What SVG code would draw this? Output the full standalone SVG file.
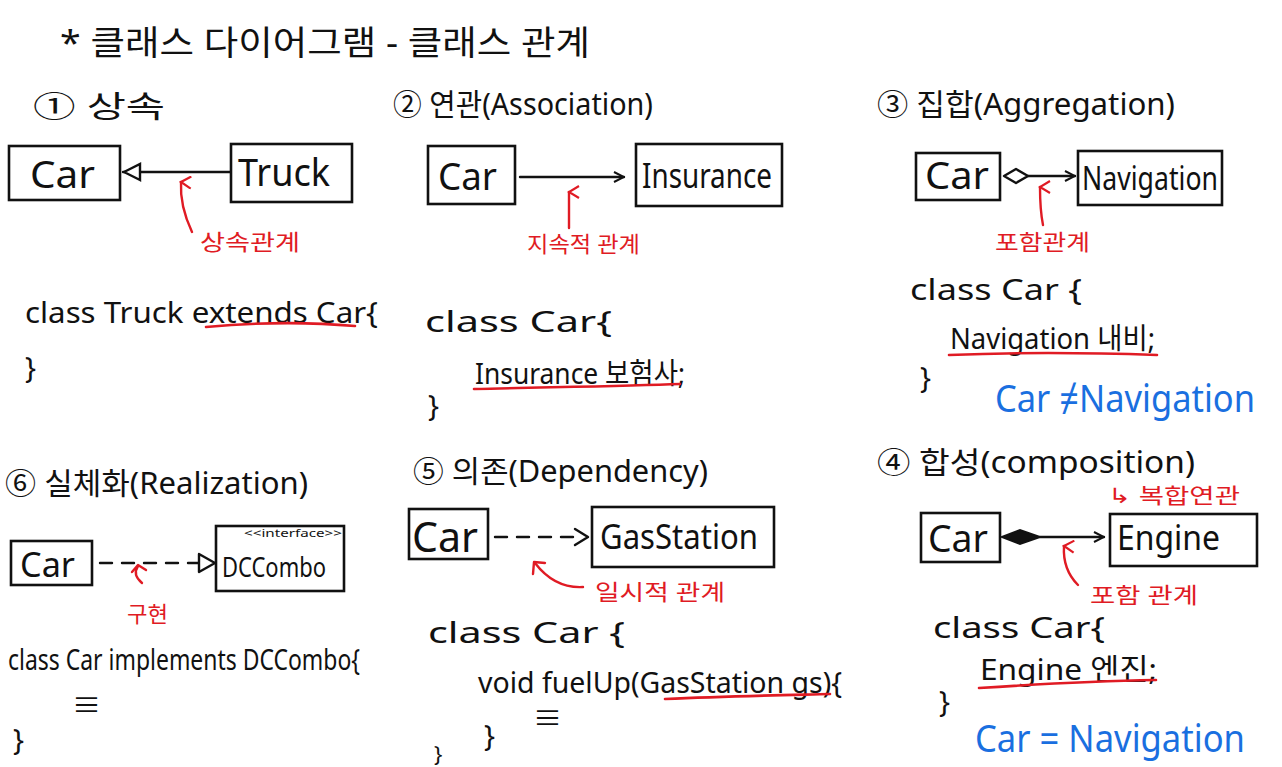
<svg xmlns="http://www.w3.org/2000/svg" width="1282" height="767" viewBox="0 0 1282 767">
<style>
text{font-family:"Noto Sans","Noto Sans CJK KR",sans-serif;fill:#111}
.t{font-size:34px}
.h{font-size:30px}
.lb{font-size:38px}
.cd{font-size:29px}
.r{font-size:22px;fill:#e01b24}
.b{font-size:38px;fill:#1a6fe0}
.box{fill:none;stroke:#111;stroke-width:2.6;stroke-linecap:round}
.ln{fill:none;stroke:#111;stroke-width:2.4;stroke-linecap:round;stroke-linejoin:round}
.ds{stroke-dasharray:12 10}
.ra{fill:none;stroke:#e01b24;stroke-width:2.4;stroke-linecap:round;stroke-linejoin:round}
.ul{fill:none;stroke:#e01b24;stroke-width:2.6;stroke-linecap:round}
</style>
<defs>
<marker id="open" viewBox="0 0 12 12" refX="11" refY="6" markerWidth="12" markerHeight="12" markerUnits="userSpaceOnUse" orient="auto">
<path d="M1,1 L11,6 L1,11" fill="none" stroke="#111" stroke-width="2"/>
</marker>
<marker id="tri" viewBox="0 0 20 20" refX="19" refY="10" markerWidth="20" markerHeight="20" markerUnits="userSpaceOnUse" orient="auto">
<path d="M2,2 L18,10 L2,18 Z" fill="#fff" stroke="#111" stroke-width="2.4"/>
</marker>
<marker id="redup" viewBox="0 0 14 14" refX="7" refY="2" markerWidth="14" markerHeight="14" markerUnits="userSpaceOnUse" orient="auto-start-reverse">
<path d="M1,12 L7,2 L13,12" fill="none" stroke="#e01b24" stroke-width="2.2"/>
</marker>
</defs>
<rect width="1282" height="767" fill="#fff"/>

<g id="title">
<text class="t" x="60" y="55" textLength="530" lengthAdjust="spacingAndGlyphs">* 클래스 다이어그램 - 클래스 관계</text>
</g>

<g id="headings">
<text class="h" x="33" y="117" textLength="132" lengthAdjust="spacingAndGlyphs">① 상속</text>
<text class="h" x="393" y="115" textLength="260" lengthAdjust="spacingAndGlyphs">② 연관(Association)</text>
<text class="h" x="877" y="115" textLength="298" lengthAdjust="spacingAndGlyphs">③ 집합(Aggregation)</text>
<text class="h" x="5" y="494" textLength="303" lengthAdjust="spacingAndGlyphs">⑥ 실체화(Realization)</text>
<text class="h" x="413" y="482" textLength="295" lengthAdjust="spacingAndGlyphs">⑤ 의존(Dependency)</text>
<text class="h" x="877" y="473" textLength="318" lengthAdjust="spacingAndGlyphs">④ 합성(composition)</text>
</g>

<!-- Section 1: inheritance -->
<g id="car1">
<rect class="box" x="9" y="146" width="111" height="54"/>
<text class="lb" x="30" y="188" textLength="65" lengthAdjust="spacingAndGlyphs">Car</text>
</g>
<g id="truck">
<rect class="box" x="231" y="144" width="121" height="58"/>
<text class="lb" x="238" y="186" textLength="92" lengthAdjust="spacingAndGlyphs">Truck</text>
</g>

<!-- Section 2: association -->
<g id="car2">
<rect class="box" x="428" y="146" width="87" height="58"/>
<text class="lb" x="438" y="190" textLength="59" lengthAdjust="spacingAndGlyphs">Car</text>
</g>
<g id="insurance">
<rect class="box" x="636" y="144" width="146" height="62"/>
<text class="lb" style="font-size:34px" x="642" y="188" textLength="130" lengthAdjust="spacingAndGlyphs">Insurance</text>
</g>

<!-- Section 3: aggregation -->
<g id="car3">
<rect class="box" x="916" y="153" width="84" height="47"/>
<text class="lb" x="925" y="189" textLength="64" lengthAdjust="spacingAndGlyphs">Car</text>
</g>
<g id="navigation">
<rect class="box" x="1078" y="151" width="144" height="54"/>
<text class="lb" style="font-size:32px" x="1082" y="190" textLength="136" lengthAdjust="spacingAndGlyphs">Navigation</text>
</g>

<!-- Section 6: realization -->
<g id="car6">
<rect class="box" x="11" y="541" width="81" height="44"/>
<text class="lb" style="font-size:34px" x="20" y="577" textLength="55" lengthAdjust="spacingAndGlyphs">Car</text>
</g>
<g id="dccombo">
<rect class="box" x="216" y="526" width="128" height="65"/>
<text style="font-size:11px" x="244" y="537" textLength="98" lengthAdjust="spacingAndGlyphs">&lt;&lt;interface&gt;&gt;</text>
<text class="lb" style="font-size:28px" x="222" y="577" textLength="104" lengthAdjust="spacingAndGlyphs">DCCombo</text>
</g>

<!-- Section 5: dependency -->
<g id="car5">
<rect class="box" x="409" y="509" width="79" height="50"/>
<text class="lb" style="font-size:42px" x="412" y="552" textLength="66" lengthAdjust="spacingAndGlyphs">Car</text>
</g>
<g id="gasstation">
<rect class="box" x="592" y="507" width="182" height="60"/>
<text class="lb" style="font-size:34px" x="600" y="549" textLength="158" lengthAdjust="spacingAndGlyphs">GasStation</text>
</g>

<!-- Section 4: composition -->
<g id="car4">
<rect class="box" x="921" y="513" width="79" height="49"/>
<text class="lb" x="928" y="552" textLength="60" lengthAdjust="spacingAndGlyphs">Car</text>
</g>
<g id="engine">
<rect class="box" x="1110" y="514" width="147" height="52"/>
<text class="lb" style="font-size:34px" x="1117" y="550" textLength="103" lengthAdjust="spacingAndGlyphs">Engine</text>
</g>

<g id="connectors">
<line class="ln" x1="230" y1="172" x2="123" y2="172" marker-end="url(#tri)"/>
<line class="ln" x1="520" y1="177" x2="624" y2="177" marker-end="url(#open)"/>
<path class="ln" d="M1004,176 L1016,169 L1028,176 L1016,183 Z" fill="#fff"/>
<line class="ln" x1="1028" y1="176" x2="1075" y2="176" marker-end="url(#open)"/>
<line class="ln ds" x1="100" y1="563" x2="198" y2="563"/>
<path d="M199,554 L215,563 L199,572 Z" fill="#fff" stroke="#111" stroke-width="2.4" stroke-linejoin="round"/>
<line class="ln ds" x1="495" y1="537" x2="576" y2="537"/>
<path class="ln" d="M575,529 L588,537 L575,545"/>
<path d="M1002,537 L1020,530 L1040,537 L1020,544 Z" fill="#111" stroke="#111" stroke-width="2"/>
<line class="ln" x1="1040" y1="537" x2="1104" y2="537" marker-end="url(#open)"/>
</g>

<g id="annotations">
<path class="ra" d="M192,232 C184,215 180,200 181,182" marker-end="url(#redup)"/>
<text class="r" x="200" y="250" textLength="100" lengthAdjust="spacingAndGlyphs">상속관계</text>
<path class="ra" d="M569,228 L569,192" marker-end="url(#redup)"/>
<text class="r" x="527" y="252" textLength="113" lengthAdjust="spacingAndGlyphs">지속적 관계</text>
<path class="ra" d="M1043,225 C1040,210 1040,198 1040,187" marker-end="url(#redup)"/>
<text class="r" x="995" y="250" textLength="95" lengthAdjust="spacingAndGlyphs">포함관계</text>
<path class="ra" d="M142,583 C136,578 134,572 138,566"/>
<path class="ra" d="M132,572 L138,565 L146,570"/>
<text class="r" x="127" y="622" textLength="41" lengthAdjust="spacingAndGlyphs">구현</text>
<path class="ra" d="M583,587 C565,588 548,580 535,563"/>
<path class="ra" d="M533,574 L534,562 L545,563"/>
<text class="r" x="595" y="600" textLength="130" lengthAdjust="spacingAndGlyphs">일시적 관계</text>
<path class="ra" d="M1078,585 C1068,575 1063,562 1064,546" marker-end="url(#redup)"/>
<text class="r" x="1090" y="603" textLength="108" lengthAdjust="spacingAndGlyphs">포함 관계</text>
<text class="r" style="font-size:21px" x="1108" y="503" textLength="132" lengthAdjust="spacingAndGlyphs">↳ 복합연관</text>
</g>

<g id="code">
<text class="cd" x="25" y="323" textLength="353" lengthAdjust="spacingAndGlyphs">class Truck extends Car{</text>
<path class="ul" d="M206,327 C260,322 310,322 355,326"/>
<text class="cd" x="25" y="378">}</text>

<text class="cd" x="425" y="332" textLength="187" lengthAdjust="spacingAndGlyphs">class Car{</text>
<text class="cd" x="475" y="384" textLength="210" lengthAdjust="spacingAndGlyphs">Insurance 보험사;</text>
<path class="ul" d="M474,389 C560,387 630,386 680,384"/>
<text class="cd" x="428" y="416">}</text>

<text class="cd" x="910" y="300" textLength="172" lengthAdjust="spacingAndGlyphs">class Car {</text>
<text class="cd" x="950" y="349" textLength="205" lengthAdjust="spacingAndGlyphs">Navigation 내비;</text>
<path class="ul" d="M949,355 C1020,352 1100,353 1157,355"/>
<text class="cd" x="920" y="388">}</text>
<text class="b" x="995" y="412" textLength="260" lengthAdjust="spacingAndGlyphs">Car ≠Navigation</text>

<text class="cd" x="8" y="670" textLength="352" lengthAdjust="spacingAndGlyphs">class Car implements DCCombo{</text>
<text class="cd" x="72" y="716">≡</text>
<text class="cd" x="13" y="750">}</text>

<text class="cd" x="428" y="643" textLength="197" lengthAdjust="spacingAndGlyphs">class Car {</text>
<text class="cd" x="478" y="693" textLength="364" lengthAdjust="spacingAndGlyphs">void fuelUp(GasStation gs){</text>
<path class="ul" d="M665,699 C730,696 790,695 830,694"/>
<text class="cd" x="533" y="729">≡</text>
<text class="cd" x="484" y="746">}</text>
<text class="cd" style="font-size:22px" x="434" y="762">}</text>

<text class="cd" x="933" y="638" textLength="172" lengthAdjust="spacingAndGlyphs">class Car{</text>
<text class="cd" x="980" y="680" textLength="177" lengthAdjust="spacingAndGlyphs">Engine 엔진;</text>
<path class="ul" d="M979,688 C1040,684 1100,681 1156,680"/>
<text class="cd" x="939" y="712">}</text>
<text class="b" x="975" y="752" textLength="270" lengthAdjust="spacingAndGlyphs">Car = Navigation</text>
</g>
</svg>
